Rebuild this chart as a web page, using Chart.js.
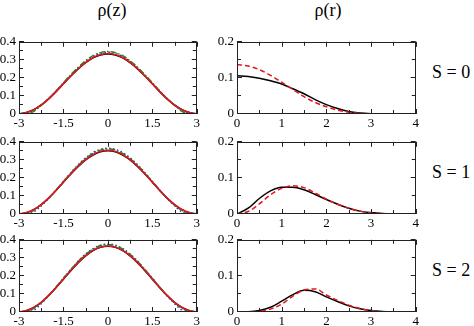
<!DOCTYPE html>
<html>
<head>
<meta charset="utf-8">
<script src="https://cdn.jsdelivr.net/npm/chart.js@4/dist/chart.umd.min.js"></script>
<style>
  html, body { margin:0; padding:0; background:#fff; }
  body { width:474px; height:326px; position:relative; overflow:hidden; }
  canvas { position:absolute; }
  .lbl { position:absolute; font-family:"Liberation Serif","Tinos","Times New Roman","Nimbus Roman","DejaVu Serif","Noto Serif",serif; color:#000; white-space:nowrap; }
</style>
</head>
<body>
<div class="lbl" id="tz" style="font-size:18px; left:90px; top:0px; width:44px; text-align:center;">ρ(z)</div>
<div class="lbl" id="tr" style="font-size:18px; left:306px; top:0px; width:44px; text-align:center;">ρ(r)</div>
<div class="lbl" style="font-size:18px; left:432px; top:62px;">S = 0</div>
<div class="lbl" style="font-size:18px; left:432px; top:162px;">S = 1</div>
<div class="lbl" style="font-size:18px; left:432px; top:260px;">S = 2</div>
<script>
// ---------- data ----------
const zValues = [-3,-2.75,-2.5,-2.25,-2,-1.75,-1.5,-1.25,-1,-0.75,-0.5,-0.25,0,0.25,0.5,0.75,1,1.25,1.5,1.75,2,2.25,2.5,2.75,3];
const rValues = [0,0.25,0.5,0.75,1,1.25,1.5,1.75,2,2.25,2.5,2.75,3,3.25,3.5,3.75,4];

// rho(z), S = 0
const z0Red   = [0.001,0.008,0.024,0.049,0.084,0.124,0.168,0.211,0.251,0.286,0.313,0.329,0.335,0.329,0.313,0.286,0.251,0.211,0.168,0.124,0.084,0.049,0.024,0.008,0.001];
const z0Black = [0.001,0.008,0.024,0.050,0.084,0.124,0.167,0.210,0.250,0.284,0.311,0.327,0.333,0.327,0.311,0.284,0.250,0.210,0.167,0.124,0.084,0.050,0.024,0.008,0.001];
const z0Green = [0,0,0.015,0.048,0.085,0.128,0.173,0.218,0.259,0.295,0.323,0.340,0.346,0.340,0.323,0.295,0.259,0.218,0.173,0.128,0.085,0.048,0.015,0,0];
const z0Blue  = [0,0.003,0.020,0.049,0.085,0.127,0.171,0.215,0.257,0.292,0.319,0.336,0.342,0.336,0.319,0.292,0.257,0.215,0.171,0.127,0.085,0.049,0.020,0.003,0];
// rho(z), S = 1
const z1Red   = [0.001,0.008,0.025,0.052,0.088,0.131,0.177,0.222,0.265,0.301,0.329,0.347,0.353,0.347,0.329,0.301,0.265,0.222,0.177,0.131,0.088,0.052,0.025,0.008,0.001];
const z1Black = [0,0.007,0.024,0.052,0.088,0.130,0.176,0.221,0.263,0.300,0.327,0.345,0.351,0.345,0.327,0.300,0.263,0.221,0.176,0.130,0.088,0.052,0.024,0.007,0];
const z1Green = [0,0.003,0.020,0.050,0.089,0.133,0.180,0.227,0.270,0.307,0.336,0.354,0.360,0.354,0.336,0.307,0.270,0.227,0.180,0.133,0.089,0.050,0.020,0.003,0];
const z1Blue  = [0,0,0.012,0.045,0.086,0.132,0.181,0.229,0.273,0.311,0.340,0.358,0.364,0.358,0.340,0.311,0.273,0.229,0.181,0.132,0.086,0.045,0.012,0,0];
// rho(z), S = 2
const z2Red   = [0.001,0.008,0.026,0.054,0.092,0.136,0.183,0.230,0.275,0.312,0.341,0.360,0.366,0.360,0.341,0.312,0.275,0.230,0.183,0.136,0.092,0.054,0.026,0.008,0.001];
const z2Black = [0,0.007,0.025,0.053,0.091,0.135,0.182,0.229,0.273,0.311,0.340,0.358,0.364,0.358,0.340,0.311,0.273,0.229,0.182,0.135,0.091,0.053,0.025,0.007,0];
const z2Green = [0,0.003,0.020,0.052,0.092,0.138,0.187,0.235,0.281,0.319,0.349,0.368,0.374,0.368,0.349,0.319,0.281,0.235,0.187,0.138,0.092,0.052,0.020,0.003,0];
const z2Blue  = [0,0,0.010,0.046,0.089,0.137,0.188,0.236,0.282,0.321,0.351,0.370,0.376,0.370,0.351,0.321,0.282,0.236,0.188,0.137,0.089,0.046,0.010,0,0];

// rho(r)
const r0Black = [0.106,0.104,0.099,0.092,0.083,0.070,0.056,0.040,0.026,0.015,0.007,0.003,0.001,0,0,0,0];
const r0Red   = [0.137,0.133,0.123,0.107,0.088,0.068,0.048,0.032,0.020,0.011,0.005,0.002,0.0005,0,0,0,0];
const r1Black = [0,0.016,0.043,0.064,0.074,0.074,0.067,0.054,0.040,0.027,0.016,0.008,0.004,0.0015,0.0005,0,0];
const r1Red   = [0,0.007,0.028,0.053,0.071,0.078,0.073,0.058,0.041,0.027,0.016,0.008,0.003,0.001,0,0,0];
const r2Black = [0,0.0005,0.004,0.013,0.030,0.048,0.060,0.056,0.042,0.029,0.017,0.009,0.004,0.0015,0.0005,0,0];
const r2Red   = [0,0,0.002,0.008,0.022,0.044,0.061,0.064,0.047,0.032,0.019,0.010,0.004,0.001,0,0,0];

// ticks
const zTickMajor = [-3,-1.5,0,1.5,3];
const zTickLabels = ["-3","-1.5","0","1.5","3"];
const zTickMinor = [-2.25,-0.75,0.75,2.25];
const rTickMajor = [0,1,2,3,4];
const rTickLabels = ["0","1","2","3","4"];
const rTickMinor = [0.5,1.5,2.5,3.5];
const yzTickMajor = [0,0.1,0.2,0.3,0.4];
const yzTickLabels = ["0","0.1","0.2","0.3","0.4"];
const yzTickMinor = [0.05,0.15,0.25,0.35];
const yrTickMajor = [0,0.1,0.2];
const yrTickLabels = ["0","0.1","0.2"];
const yrTickMinor = [0.05,0.15];

// ---------- rendering ----------
const FONT = "'Liberation Serif', Tinos, 'Times New Roman', 'Nimbus Roman', 'DejaVu Serif', 'Noto Serif', serif";
const RED = "#e8141c", BLACK = "#000000", GREEN = "#1a8a1a", BLUE = "#2030e0";

const framePlugin = {
  id: 'frame',
  afterDatasetsDraw(chart, args, opts) {
    const ctx = chart.ctx, a = chart.chartArea;
    const xs = chart.scales.x, ys = chart.scales.y;
    ctx.save();
    ctx.strokeStyle = '#222';
    ctx.lineWidth = 1;
    ctx.strokeRect(Math.round(a.left)+0.5, Math.round(a.top)+0.5, Math.round(a.right-a.left)-1, Math.round(a.bottom-a.top)-1);
    ctx.beginPath();
    const tick = (vals, len, axis) => {
      vals.forEach(v => {
        if (axis === 'x') {
          const px = Math.round(xs.getPixelForValue(v)) + 0.5;
          ctx.moveTo(px, a.bottom); ctx.lineTo(px, a.bottom - len);
          ctx.moveTo(px, a.top); ctx.lineTo(px, a.top + len);
        } else {
          const py = Math.round(ys.getPixelForValue(v)) - 0.5;
          ctx.moveTo(a.left, py); ctx.lineTo(a.left + len, py);
          ctx.moveTo(a.right, py); ctx.lineTo(a.right - len, py);
        }
      });
    };
    tick(opts.xMajor, 5, 'x'); tick(opts.xMinor, 4, 'x');
    tick(opts.yMajor, 5, 'y'); tick(opts.yMinor, 4, 'y');
    ctx.stroke();
    ctx.restore();
  }
};

function makePanel(spec) {
  const cv = document.createElement('canvas');
  cv.width = spec.w; cv.height = spec.h;
  cv.style.left = spec.left + 'px'; cv.style.top = spec.top + 'px';
  cv.style.width = spec.w + 'px'; cv.style.height = spec.h + 'px';
  document.body.appendChild(cv);
  new Chart(cv, {
    type: 'line',
    data: { labels: spec.xs, datasets: spec.datasets.map(d => ({
      data: d.data.map((v, i) => ({x: spec.xs[i], y: v})),
      borderColor: d.color, borderWidth: d.width || 1.5, borderDash: d.dash || [],
      pointRadius: 0, fill: false, cubicInterpolationMode: 'monotone', tension: 0.4
    })) },
    options: {
      responsive: false, animation: false, devicePixelRatio: 1,
      layout: { padding: { top: 1, right: 1, left: 0, bottom: 0 } },
      plugins: { legend: { display: false }, tooltip: { enabled: false },
        frame: { xMajor: spec.xMajor, xMinor: spec.xMinor, yMajor: spec.yMajor, yMinor: spec.yMinor } },
      scales: {
        x: { type: 'linear', min: spec.xMajor[0], max: spec.xMajor[spec.xMajor.length-1],
          grid: { display: false, drawTicks: false }, border: { display: false },
          afterBuildTicks: s => { s.ticks = spec.xMajor.map(v => ({value: v})); },
          afterFit: s => { s.height = spec.xAxisH; },
          ticks: { autoSkip: false, maxRotation: 0, padding: 2, color: '#000',
            font: { family: FONT, size: 13 },
            callback: (v) => spec.xLabels[spec.xMajor.indexOf(v)] } },
        y: { type: 'linear', min: 0, max: spec.yMajor[spec.yMajor.length-1],
          grid: { display: false, drawTicks: false }, border: { display: false },
          afterBuildTicks: s => { s.ticks = spec.yMajor.map(v => ({value: v})); },
          afterFit: s => { s.width = spec.yAxisW; },
          ticks: { autoSkip: false, padding: 3, color: '#000',
            font: { family: FONT, size: 13 },
            callback: (v) => spec.yLabels[spec.yMajor.indexOf(v)] } }
      }
    },
    plugins: [framePlugin]
  });
}

const rowsTop = [32, 132, 230];
const leftSets = [
  [z0Red, z0Green, z0Blue, z0Black],
  [z1Red, z1Green, z1Blue, z1Black],
  [z2Red, z2Green, z2Blue, z2Black]
];
const rightSets = [
  [r0Red, r0Black],
  [r1Red, r1Black],
  [r2Red, r2Black]
];
function draw() {
  rowsTop.forEach((top, i) => {
    const L = leftSets[i];
    makePanel({
      left: 0, top: top - 1, w: 202, h: 1 + 82 + 16, xAxisH: 16, yAxisW: 19,
      xs: zValues, xMajor: zTickMajor, xMinor: zTickMinor, xLabels: zTickLabels,
      yMajor: yzTickMajor, yMinor: yzTickMinor, yLabels: yzTickLabels,
      datasets: [
        { data: L[0], color: RED, width: 1.5 },
        { data: L[1], color: GREEN, width: 1.5, dash: [6, 2, 1.5, 2] },
        { data: L[2], color: BLUE, width: 1.5, dash: [1.5, 2.5] },
        { data: L[3], color: BLACK, width: 1.5 }
      ]
    });
    const R = rightSets[i];
    makePanel({
      left: 207, top: top - 1, w: 214, h: 1 + 82 + 16, xAxisH: 16, yAxisW: 30,
      xs: rValues, xMajor: rTickMajor, xMinor: rTickMinor, xLabels: rTickLabels,
      yMajor: yrTickMajor, yMinor: yrTickMinor, yLabels: yrTickLabels,
      datasets: [
        { data: R[0], color: RED, width: 1.5, dash: [5, 3] },
        { data: R[1], color: BLACK, width: 1.5 }
      ]
    });
  });
}
draw();
</script>
</body>
</html>
